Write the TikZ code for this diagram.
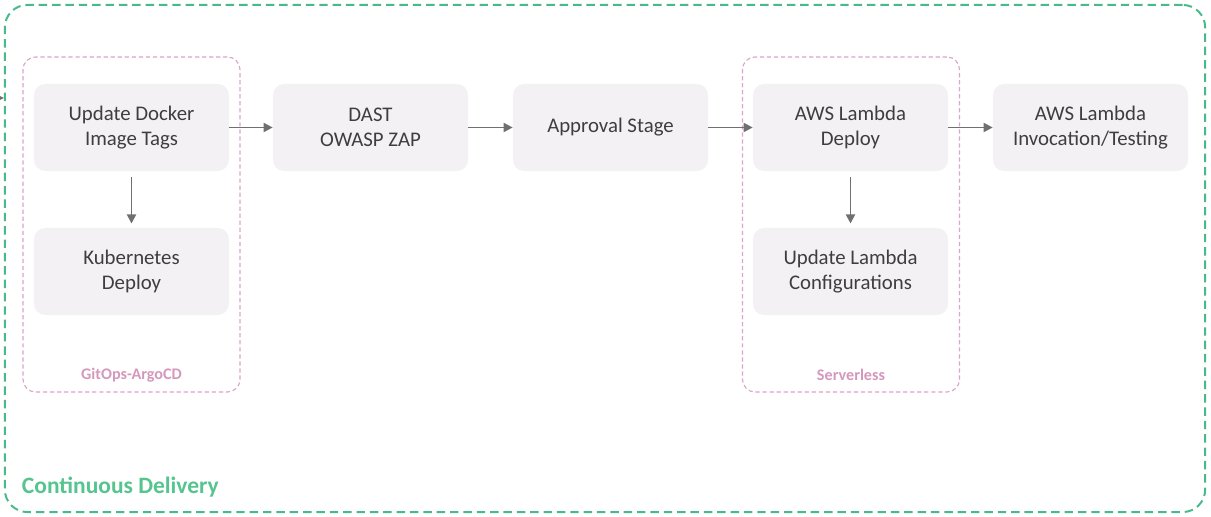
\documentclass[tikz,border=0pt]{standalone}
\usepackage{fontspec}
\setmainfont{Carlito}
\usepackage{tikz}
\usetikzlibrary{arrows,arrows.meta,shapes,positioning}
\usepackage{xcolor}
\definecolor{cdgreen}{RGB}{72,186,138}
\definecolor{cdtext}{RGB}{86,196,142}
\definecolor{grppink}{RGB}{218,165,198}
\definecolor{grptext}{RGB}{212,152,188}
\definecolor{stagefill}{RGB}{243,241,244}
\definecolor{stagetext}{RGB}{62,62,62}
\definecolor{arrowgrey}{RGB}{112,112,112}
\tikzstyle{arrow} = [line width=1.3pt,-{Triangle[length=6.5pt,width=6.5pt]},color=arrowgrey]
\tikzstyle{stagebox} = [rectangle, rounded corners=8pt, minimum width=4.875cm, minimum height=2.175cm, text centered, align=center, fill=stagefill, text=stagetext, font=\fontsize{14.8}{18}\selectfont]
\tikzstyle{groupbox} = [rectangle, rounded corners=9pt, minimum width=5.425cm, minimum height=8.375cm, draw=grppink, line width=0.8pt, dash pattern=on 3pt off 2pt]
\tikzstyle{cdbox} = [rectangle, rounded corners=16pt, minimum width=30cm, minimum height=12.675cm, draw=cdgreen, line width=1.4pt, dash pattern=on 6pt off 3.5pt]

\begin{document}
\begin{tikzpicture}[x=0.025cm,y=-0.025cm]
\useasboundingbox (0,0) rectangle (1211,517);
% outer stage
\node[cdbox] (cd) at (605,258.5) {};
\node[anchor=west, text=cdtext, font=\fontsize{16.7}{19}\selectfont\bfseries] (cdlabel) at (17,487) {Continuous Delivery};

% groups
\node[groupbox] (gitops) at (131.5,224.5) {};
\node[groupbox] (serverless) at (851,224.5) {};
\node[text=grptext, font=\fontsize{11.5}{13}\selectfont\bfseries] (gitopslabel) at (131.5,375) {GitOps-ArgoCD};
\node[text=grptext, font=\fontsize{11.5}{13}\selectfont\bfseries] (serverlesslabel) at (851,375) {Serverless};

% stages
\node[stagebox] (docker) at (131.5,127.5) {Update Docker\\Image Tags};
\node[stagebox] (kube) at (131.5,271.5) {Kubernetes\\Deploy};
\node[stagebox] (dast) at (370.5,127.5) {DAST\\OWASP ZAP};
\node[stagebox] (approval) at (610.5,127.5) {Approval Stage};
\node[stagebox] (lambda) at (850.5,127.5) {AWS Lambda\\Deploy};
\node[stagebox] (lambdacfg) at (850.5,271.5) {Update Lambda\\Configurations};
\node[stagebox] (invoke) at (1090.5,127.5) {AWS Lambda\\Invocation/Testing};

\coordinate (prev) at (-8,98);
\draw[arrow] (prev) -- (prev -| cd.west);
\draw[arrow] (docker) -- (dast);
\draw[arrow] (dast) -- (approval);
\draw[arrow] (approval) -- (lambda);
\draw[arrow] (lambda) -- (invoke);
\draw[arrow, shorten <=4pt, shorten >=3pt] (docker) -- (kube);
\draw[arrow, shorten <=4pt, shorten >=3pt] (lambda) -- (lambdacfg);
\end{tikzpicture}
\end{document}
